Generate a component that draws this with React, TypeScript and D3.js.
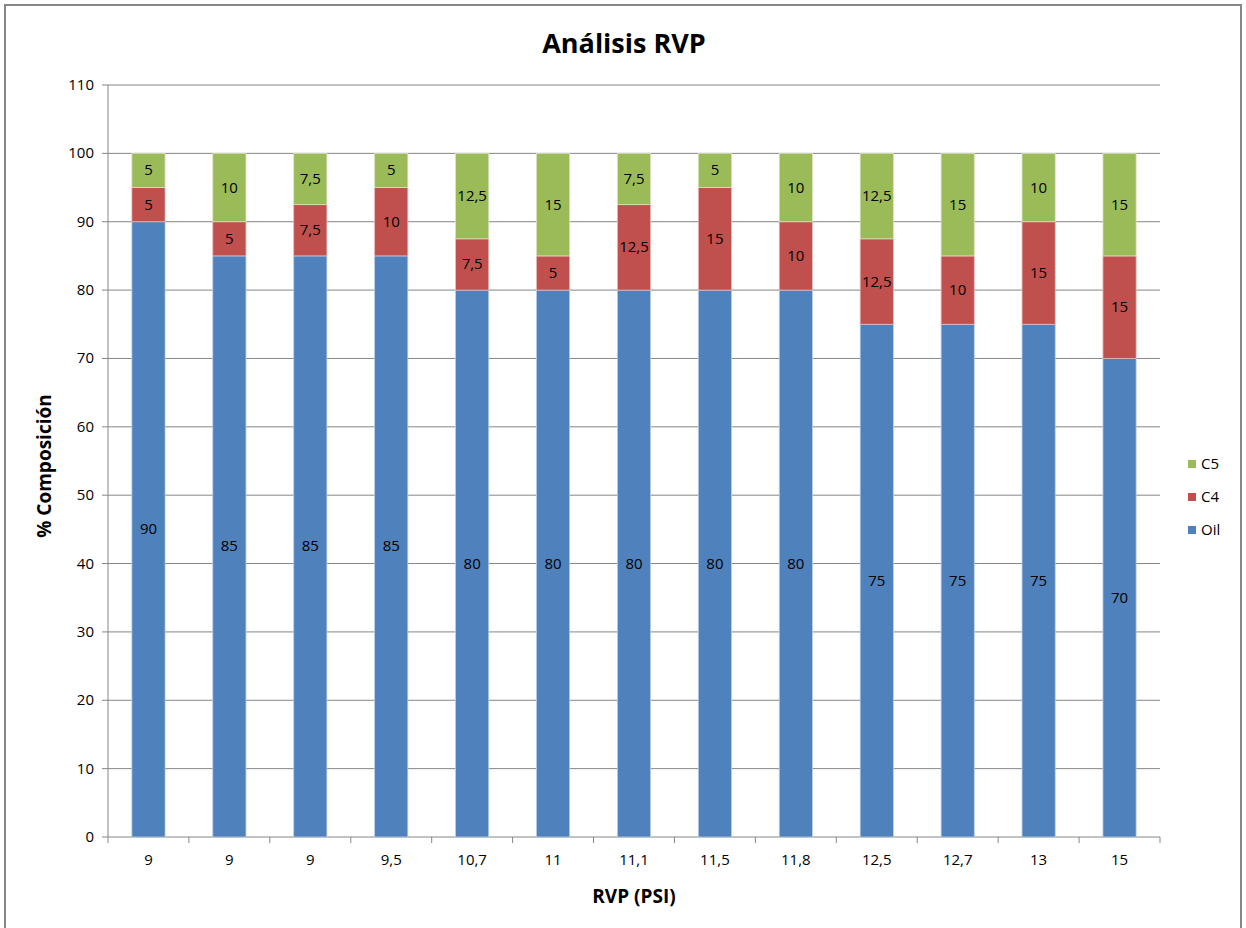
import React from "react";
import * as d3 from "d3";

const categories = ["9", "9", "9", "9,5", "10,7", "11", "11,1", "11,5", "11,8", "12,5", "12,7", "13", "15"];
const oil = [90, 85, 85, 85, 80, 80, 80, 80, 80, 75, 75, 75, 70];
const c4 = [5, 5, 7.5, 10, 7.5, 5, 12.5, 15, 10, 12.5, 10, 15, 15];
const c5 = [5, 10, 7.5, 5, 12.5, 15, 7.5, 5, 10, 12.5, 15, 10, 15];
const yTicks = [0, 10, 20, 30, 40, 50, 60, 70, 80, 90, 100, 110];

const seriesNames = ["Oil", "C4", "C5"];
const colors: Record<string, string> = { Oil: "#4f81bd", C4: "#c0504d", C5: "#9bbb59" };
const edge: Record<string, string> = { Oil: "#b9cde5", C4: "#e6b9b8", C5: "#d7e4bd" };

const W = 1246;
const H = 928;
const M = { left: 108, right: 1160, top: 85, bottom: 837 };
const FONT = "'Open Sans', 'Liberation Sans', sans-serif";

export default function App() {
  const rows = categories.map((c, i) => ({ idx: i, Oil: oil[i], C4: c4[i], C5: c5[i] }));
  const stack = d3.stack<any>().keys(seriesNames)(rows);
  const x = d3
    .scaleBand<number>()
    .domain(categories.map((_, i) => i))
    .range([M.left, M.right])
    .paddingInner(0.59)
    .paddingOuter(0.295);
  const band = (M.right - M.left) / categories.length;
  const y = d3.scaleLinear().domain([0, 110]).range([M.bottom, M.top]);
  const fmt = (v: number) => String(v).replace(".", ",");

  return (
    <svg width={W} height={H} style={{ position: "absolute", left: 0, top: 0, background: "#fff" }}>
      <rect x={5} y={5} width={1236} height={940} fill="#fff" stroke="#868686" strokeWidth={2} />
      <text x={624} y={53} textAnchor="middle" fontFamily={FONT} fontWeight="bold" fontSize={27} fill="#000">
        Análisis RVP
      </text>
      {yTicks.map((t) => (
        <g key={t}>
          <line x1={M.left} x2={M.right} y1={y(t)} y2={y(t)} stroke="#868686" strokeWidth={1} />
          <line x1={M.left - 6} x2={M.left} y1={y(t)} y2={y(t)} stroke="#868686" />
          <text x={M.left - 14} y={y(t) + 5} textAnchor="end" fontFamily={FONT} fontSize={15} fill="#000">
            {t}
          </text>
        </g>
      ))}
      <line x1={M.left} x2={M.left} y1={M.top} y2={M.bottom} stroke="#868686" />
      {d3.range(categories.length + 1).map((i) => (
        <line key={i} x1={M.left + i * band} x2={M.left + i * band} y1={M.bottom} y2={M.bottom + 6} stroke="#868686" />
      ))}
      {stack.map((s) =>
        s.map((d, i) => (
          <g key={s.key + i}>
            <rect
              x={x(i)!}
              width={x.bandwidth()}
              y={y(d[1])}
              height={y(d[0]) - y(d[1])}
              fill={colors[s.key]}
              stroke={edge[s.key]}
              strokeWidth={0.8}
            />
            <text
              x={x(i)! + x.bandwidth() / 2}
              y={(y(d[0]) + y(d[1])) / 2 + 5}
              textAnchor="middle"
              fontFamily={FONT}
              fontSize={15}
              fill="#000"
            >
              {fmt(d[1] - d[0])}
            </text>
          </g>
        ))
      )}
      {categories.map((c, i) => (
        <text key={i} x={x(i)! + x.bandwidth() / 2} y={865} textAnchor="middle" fontFamily={FONT} fontSize={15} fill="#000">
          {c}
        </text>
      ))}
      <text x={634} y={903} textAnchor="middle" fontFamily={FONT} fontWeight="bold" fontSize={19} fill="#000">
        RVP (PSI)
      </text>
      <text
        transform={`translate(51, ${(M.top + M.bottom) / 2 + 5}) rotate(-90)`}
        textAnchor="middle"
        fontFamily={FONT}
        fontWeight="bold"
        fontSize={19}
        fill="#000"
      >
        % Composición
      </text>
      {["C5", "C4", "Oil"].map((k, i) => (
        <g key={k} transform={`translate(1188, ${460 + i * 33})`}>
          <rect width={8} height={8} fill={colors[k]} />
          <text x={13} y={9} fontFamily={FONT} fontSize={15} fill="#000">
            {k}
          </text>
        </g>
      ))}
    </svg>
  );
}
